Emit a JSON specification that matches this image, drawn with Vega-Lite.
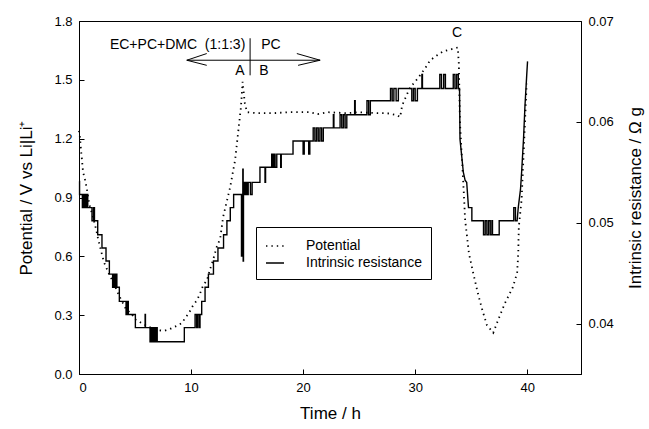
{
  "$schema": "https://vega.github.io/schema/vega-lite/v6.json",
  "width": 502,
  "height": 353,
  "autosize": "none",
  "padding": {"left": 79, "top": 21, "right": 68, "bottom": 55},
  "background": "white",
  "config": {
    "font": "Liberation Sans, Arial, sans-serif",
    "view": {"stroke": "black", "strokeWidth": 1},
    "axis": {
      "grid": false,
      "domainColor": "black",
      "tickColor": "black",
      "labelColor": "black",
      "titleColor": "black",
      "labelFontSize": 13,
      "titleFontSize": 17,
      "titleFontWeight": "normal",
      "tickSize": -5,
      "labelPadding": 12,
      "domainWidth": 1,
      "tickWidth": 1
    },
    "legend": {
      "orient": "none",
      "legendX": 177,
      "legendY": 206,
      "strokeColor": "black",
      "fillColor": "white",
      "padding": 9,
      "labelFontSize": 14,
      "labelColor": "black",
      "symbolType": "stroke",
      "symbolSize": 324,
      "symbolStrokeWidth": 1.6,
      "symbolStrokeColor": "black",
      "labelOffset": 21,
      "rowPadding": 0
    }
  },
  "datasets": {
    "potential": [
      {"t":0,"v":1.24},{"t":0.1,"v":1.2},{"t":0.18,"v":1.14},{"t":0.27,"v":1.09},{"t":0.36,"v":1.03},{"t":0.54,"v":0.99},{"t":0.71,"v":0.94},{"t":0.9,"v":0.87},{"t":1.25,"v":0.8},{"t":1.52,"v":0.74},{"t":1.7,"v":0.69},{"t":1.96,"v":0.63},{"t":2.23,"v":0.57},{"t":2.68,"v":0.51},{"t":3.13,"v":0.46},{"t":3.57,"v":0.40},{"t":3.93,"v":0.36},{"t":4.2,"v":0.33},{"t":4.64,"v":0.31},{"t":5.09,"v":0.275},{"t":6.25,"v":0.24},{"t":7.0,"v":0.224},{"t":7.6,"v":0.22},{"t":8.1,"v":0.229},{"t":8.7,"v":0.245},{"t":9.2,"v":0.26},{"t":9.46,"v":0.285},{"t":9.8,"v":0.31},{"t":10.18,"v":0.35},{"t":10.54,"v":0.377},{"t":10.8,"v":0.41},{"t":11.07,"v":0.45},{"t":11.43,"v":0.48},{"t":11.7,"v":0.535},{"t":11.96,"v":0.58},{"t":12.3,"v":0.65},{"t":12.6,"v":0.69},{"t":12.86,"v":0.8},{"t":13.48,"v":0.95},{"t":13.93,"v":1.09},{"t":14.2,"v":1.23},{"t":14.45,"v":1.36},{"t":14.6,"v":1.49},{"t":14.8,"v":1.38},{"t":15.0,"v":1.335},{"t":15.9,"v":1.33},{"t":17.3,"v":1.33},{"t":18.8,"v":1.335},{"t":20.6,"v":1.335},{"t":21.3,"v":1.325},{"t":22.2,"v":1.335},{"t":23.9,"v":1.33},{"t":24.9,"v":1.335},{"t":26.6,"v":1.33},{"t":27.5,"v":1.33},{"t":28.4,"v":1.32},{"t":28.66,"v":1.31},{"t":28.84,"v":1.37},{"t":29.3,"v":1.43},{"t":29.55,"v":1.46},{"t":30.27,"v":1.51},{"t":30.9,"v":1.56},{"t":31.34,"v":1.6},{"t":31.96,"v":1.625},{"t":32.5,"v":1.645},{"t":33.8,"v":1.665},{"t":33.9,"v":1.58},{"t":34.0,"v":1.28},{"t":34.3,"v":0.97},{"t":34.46,"v":0.785},{"t":34.8,"v":0.615},{"t":35.2,"v":0.51},{"t":35.6,"v":0.41},{"t":36.0,"v":0.325},{"t":36.4,"v":0.25},{"t":36.97,"v":0.21},{"t":37.4,"v":0.275},{"t":38.0,"v":0.36},{"t":38.7,"v":0.44},{"t":39.1,"v":0.515},{"t":39.2,"v":0.615},{"t":39.25,"v":0.75},{"t":39.5,"v":0.89},{"t":39.95,"v":1.48}
    ],
    "resistance": [
      {"t":0,"r":0.0541},{"t":0.05,"r":0.0541},{"t":0.05,"r":0.0528},{"t":0.3,"r":0.0528},
      {"t":0.3,"r":0.0515},{"t":0.38,"r":0.0515},{"t":0.38,"r":0.0528},{"t":0.46,"r":0.0528},{"t":0.46,"r":0.0515},{"t":0.54,"r":0.0515},{"t":0.54,"r":0.0528},{"t":0.62,"r":0.0528},{"t":0.62,"r":0.0515},{"t":0.7,"r":0.0515},{"t":0.7,"r":0.0528},{"t":0.78,"r":0.0528},{"t":0.78,"r":0.0515},
      {"t":1.16,"r":0.0515},{"t":1.16,"r":0.0502},{"t":1.3,"r":0.0502},{"t":1.3,"r":0.0515},{"t":1.38,"r":0.0515},{"t":1.38,"r":0.0502},{"t":1.67,"r":0.0502},{"t":1.67,"r":0.0488},{"t":2.05,"r":0.0488},{"t":2.05,"r":0.0475},{"t":2.41,"r":0.0475},{"t":2.41,"r":0.0462},{"t":2.71,"r":0.0462},{"t":2.71,"r":0.0449},{"t":3.0,"r":0.0449},{"t":3.0,"r":0.0436},{"t":3.1,"r":0.0436},{"t":3.1,"r":0.0449},{"t":3.2,"r":0.0449},{"t":3.2,"r":0.0436},{"t":3.3,"r":0.0436},{"t":3.3,"r":0.0449},{"t":3.38,"r":0.0449},{"t":3.38,"r":0.0436},{"t":3.6,"r":0.0436},{"t":3.6,"r":0.0422},{"t":4.2,"r":0.0422},{"t":4.2,"r":0.0409},{"t":4.3,"r":0.0409},{"t":4.3,"r":0.0422},{"t":4.4,"r":0.0422},{"t":4.4,"r":0.0409},{"t":5.03,"r":0.0409},{"t":5.03,"r":0.0396},{"t":5.9,"r":0.0396},{"t":5.9,"r":0.0409},{"t":5.93,"r":0.0409},{"t":5.93,"r":0.0396},{"t":6.34,"r":0.0396},{"t":6.34,"r":0.0382},
      {"t":6.42,"r":0.0382},{"t":6.42,"r":0.0396},{"t":6.5,"r":0.0396},{"t":6.5,"r":0.0382},{"t":6.58,"r":0.0382},{"t":6.58,"r":0.0396},{"t":6.66,"r":0.0396},{"t":6.66,"r":0.0382},{"t":6.74,"r":0.0382},{"t":6.74,"r":0.0396},{"t":6.82,"r":0.0396},{"t":6.82,"r":0.0382},{"t":6.9,"r":0.0382},{"t":6.9,"r":0.0396},{"t":6.98,"r":0.0396},{"t":6.98,"r":0.0382},
      {"t":9.4,"r":0.0382},{"t":9.4,"r":0.0396},{"t":10.36,"r":0.0396},{"t":10.36,"r":0.0409},{"t":10.5,"r":0.0409},{"t":10.5,"r":0.0396},{"t":10.58,"r":0.0396},{"t":10.58,"r":0.0409},{"t":10.72,"r":0.0409},{"t":10.72,"r":0.0396},{"t":10.8,"r":0.0396},{"t":10.8,"r":0.0409},{"t":10.95,"r":0.0409},{"t":10.95,"r":0.0422},{"t":11.25,"r":0.0422},{"t":11.25,"r":0.0436},{"t":11.55,"r":0.0436},{"t":11.55,"r":0.0449},{"t":12.0,"r":0.0449},{"t":12.0,"r":0.0462},{"t":12.4,"r":0.0462},{"t":12.4,"r":0.0475},{"t":12.9,"r":0.0475},{"t":12.9,"r":0.0488},{"t":13.2,"r":0.0488},{"t":13.2,"r":0.0502},{"t":13.5,"r":0.0502},{"t":13.5,"r":0.0515},{"t":13.8,"r":0.0515},{"t":13.8,"r":0.0528},{"t":14.5,"r":0.0528},{"t":14.5,"r":0.0467},{"t":14.53,"r":0.0467},{"t":14.53,"r":0.0528},{"t":14.62,"r":0.0528},{"t":14.62,"r":0.0553},{"t":14.65,"r":0.0553},{"t":14.65,"r":0.0462},{"t":14.68,"r":0.0462},{"t":14.68,"r":0.054},
      {"t":14.8,"r":0.054},{"t":14.8,"r":0.0528},{"t":14.9,"r":0.0528},{"t":14.9,"r":0.054},{"t":15.0,"r":0.054},{"t":15.0,"r":0.0528},{"t":15.1,"r":0.0528},{"t":15.1,"r":0.054},{"t":15.3,"r":0.054},{"t":15.3,"r":0.0528},{"t":15.45,"r":0.0528},{"t":15.45,"r":0.054},
      {"t":16.15,"r":0.054},{"t":16.15,"r":0.0555},{"t":16.6,"r":0.0555},{"t":16.6,"r":0.054},{"t":16.65,"r":0.054},{"t":16.65,"r":0.0555},{"t":17.2,"r":0.0555},{"t":17.2,"r":0.0568},{"t":17.3,"r":0.0568},{"t":17.3,"r":0.0555},{"t":17.4,"r":0.0555},{"t":17.4,"r":0.0568},{"t":17.5,"r":0.0568},{"t":17.5,"r":0.0555},{"t":17.65,"r":0.0555},{"t":17.65,"r":0.0568},{"t":18.0,"r":0.0568},{"t":18.0,"r":0.0555},{"t":18.05,"r":0.0555},{"t":18.05,"r":0.0568},{"t":19.1,"r":0.0568},{"t":19.1,"r":0.0581},{"t":20.0,"r":0.0581},{"t":20.0,"r":0.0568},{"t":20.1,"r":0.0568},{"t":20.1,"r":0.0581},{"t":20.5,"r":0.0581},{"t":20.5,"r":0.0568},{"t":20.6,"r":0.0568},{"t":20.6,"r":0.0581},{"t":20.9,"r":0.0581},{"t":20.9,"r":0.0594},
      {"t":21.05,"r":0.0594},{"t":21.05,"r":0.0581},{"t":21.2,"r":0.0581},{"t":21.2,"r":0.0594},{"t":21.35,"r":0.0594},{"t":21.35,"r":0.0581},{"t":21.5,"r":0.0581},{"t":21.5,"r":0.0594},{"t":21.65,"r":0.0594},{"t":21.65,"r":0.0581},{"t":21.8,"r":0.0581},{"t":21.8,"r":0.0594},
      {"t":22.7,"r":0.0594},{"t":22.7,"r":0.0607},{"t":22.75,"r":0.0607},{"t":22.75,"r":0.0594},{"t":23.3,"r":0.0594},{"t":23.3,"r":0.0607},{"t":23.45,"r":0.0607},{"t":23.45,"r":0.0594},{"t":23.6,"r":0.0594},{"t":23.6,"r":0.0607},{"t":23.75,"r":0.0607},{"t":23.75,"r":0.0594},{"t":23.9,"r":0.0594},{"t":23.9,"r":0.0607},{"t":24.6,"r":0.0607},{"t":24.6,"r":0.0621},{"t":24.65,"r":0.0621},{"t":24.65,"r":0.0607},{"t":25.7,"r":0.0607},{"t":25.7,"r":0.0621},{"t":25.85,"r":0.0621},{"t":25.85,"r":0.0607},{"t":26.0,"r":0.0607},{"t":26.0,"r":0.0621},{"t":27.8,"r":0.0621},{"t":27.8,"r":0.0633},{"t":27.95,"r":0.0633},{"t":27.95,"r":0.0621},{"t":28.1,"r":0.0621},{"t":28.1,"r":0.0633},{"t":28.3,"r":0.0633},{"t":28.3,"r":0.0621},{"t":28.5,"r":0.0621},{"t":28.5,"r":0.0633},{"t":29.7,"r":0.0633},{"t":29.7,"r":0.0621},{"t":29.85,"r":0.0621},{"t":29.85,"r":0.0633},{"t":30.0,"r":0.0633},{"t":30.0,"r":0.0621},{"t":30.2,"r":0.0621},{"t":30.2,"r":0.0633},{"t":30.6,"r":0.0633},{"t":30.6,"r":0.0647},{"t":30.65,"r":0.0647},{"t":30.65,"r":0.0633},{"t":32.2,"r":0.0633},{"t":32.2,"r":0.0647},{"t":32.35,"r":0.0647},{"t":32.35,"r":0.0633},{"t":32.55,"r":0.0633},{"t":32.55,"r":0.0647},{"t":32.7,"r":0.0647},{"t":32.7,"r":0.0633},{"t":33.4,"r":0.0633},{"t":33.4,"r":0.0647},{"t":33.55,"r":0.0647},{"t":33.55,"r":0.0633},{"t":33.7,"r":0.0633},{"t":33.7,"r":0.0647},{"t":33.85,"r":0.0647},{"t":33.85,"r":0.0633},{"t":33.96,"r":0.0633},
      {"t":34.0,"r":0.0583},{"t":34.3,"r":0.055},{"t":34.46,"r":0.0542},{"t":34.6,"r":0.054},{"t":34.76,"r":0.0515},{"t":35.06,"r":0.0515},{"t":35.06,"r":0.0502},{"t":36.1,"r":0.0502},{"t":36.1,"r":0.0488},
      {"t":36.25,"r":0.0488},{"t":36.25,"r":0.0502},{"t":36.4,"r":0.0502},{"t":36.4,"r":0.0488},{"t":36.55,"r":0.0488},{"t":36.55,"r":0.0502},{"t":36.7,"r":0.0502},{"t":36.7,"r":0.0488},{"t":36.85,"r":0.0488},{"t":36.85,"r":0.0502},{"t":36.9,"r":0.0502},{"t":36.9,"r":0.0488},{"t":37.5,"r":0.0488},{"t":37.5,"r":0.0502},{"t":38.8,"r":0.0502},{"t":38.8,"r":0.0515},{"t":38.95,"r":0.0515},{"t":38.95,"r":0.0502},{"t":39.1,"r":0.0502},{"t":39.2,"r":0.0515},{"t":39.4,"r":0.0533},{"t":39.5,"r":0.055},{"t":39.67,"r":0.0583},{"t":39.8,"r":0.0616},{"t":39.97,"r":0.0649},{"t":40.03,"r":0.066}
    ],
    "arrows": [
      {"t":9.62,"v":1.6,"t2":21.52,"v2":1.6},
      {"t":9.62,"v":1.6,"t2":11.4,"v2":1.634},
      {"t":9.62,"v":1.6,"t2":11.4,"v2":1.574},
      {"t":21.52,"v":1.6,"t2":19.44,"v2":1.634},
      {"t":21.52,"v":1.6,"t2":19.55,"v2":1.574},
      {"t":15.27,"v":1.712,"t2":15.27,"v2":1.523}
    ],
    "labels": [
      {"t":8.8,"v":1.676,"label":"EC+PC+DMC\u00a0 (1:1:3)"},
      {"t":17.13,"v":1.676,"label":"PC"},
      {"t":14.37,"v":1.545,"label":"A"},
      {"t":16.5,"v":1.545,"label":"B"},
      {"t":33.75,"v":1.737,"label":"C"}
    ]
  },
  "encoding": {
    "x": {
      "field": "t",
      "type": "quantitative",
      "scale": {"domain": [0, 44.8], "nice": false},
      "axis": {"title": "Time / h", "values": [0, 10, 20, 30, 40], "format": "d", "titlePadding": 11}
    }
  },
  "layer": [
    {
      "encoding": {
        "y": {
          "field": "v",
          "type": "quantitative",
          "scale": {"domain": [0, 1.8], "nice": false, "zero": false},
          "axis": {"title": "Potential / V vs Li|Li⁺", "values": [0, 0.3, 0.6, 0.9, 1.2, 1.5, 1.8], "format": ".1f", "titlePadding": 18}
        }
      },
      "layer": [
        {
          "data": {"name": "potential"},
          "mark": {"type": "line", "color": "black", "strokeWidth": 1.8, "strokeCap": "butt"},
          "encoding": {
            "order": {"value": null},
            "strokeDash": {
              "datum": "Potential",
              "type": "nominal",
              "scale": {"domain": ["Potential", "Intrinsic resistance"], "range": [[1.4, 4], [1, 0]]},
              "legend": {"title": null}
            }
          }
        },
        {
          "data": {"name": "arrows"},
          "mark": {"type": "rule", "color": "black", "strokeWidth": 1},
          "encoding": {
            "x2": {"field": "t2"},
            "y2": {"field": "v2"}
          }
        },
        {
          "data": {"name": "labels"},
          "mark": {"type": "text", "color": "black", "fontSize": 14, "align": "center", "baseline": "middle"},
          "encoding": {
            "text": {"field": "label", "type": "nominal"}
          }
        }
      ]
    },
    {
      "data": {"name": "resistance"},
      "mark": {"type": "line", "color": "black", "strokeWidth": 1.4},
      "encoding": {
        "y": {
          "field": "r",
          "type": "quantitative",
          "scale": {"domain": [0.035, 0.07], "nice": false, "zero": false},
          "axis": {"orient": "right", "title": "Intrinsic resistance / Ω g", "values": [0.04, 0.05, 0.06, 0.07], "format": ".2f", "titleAngle": 270, "titlePadding": 31}
        },
        "order": {"value": null},
        "strokeDash": {
          "datum": "Intrinsic resistance",
          "type": "nominal"
        }
      }
    }
  ],
  "resolve": {"scale": {"y": "independent"}}
}
